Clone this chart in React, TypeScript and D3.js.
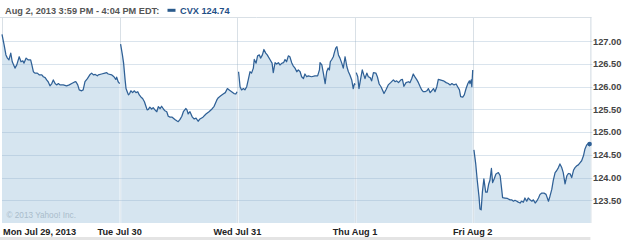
import React from "react";
import * as d3 from "d3";

// [minutes after 9:30 open, price]
const mon: [number, number][] = [
  [0, 127.15], [7, 126.92], [13, 126.7], [18, 126.63], [23, 126.59], [29, 126.74], [34, 126.55], [43, 126.41],
  [49, 126.48], [57, 126.66], [63, 126.55], [69, 126.57], [73, 126.52], [80, 126.63], [87, 126.59], [95, 126.59],
  [99, 126.48], [104, 126.33], [109, 126.3], [117, 126.3], [124, 126.26], [132, 126.26], [137, 126.22], [143, 126.2],
  [148, 126.15], [153, 126.11], [159, 126.02], [165, 126.07], [170, 126.15], [176, 126.07], [181, 126.04], [187, 126.07],
  [192, 126.04], [203, 126.04], [214, 126.02], [223, 126.04], [231, 126.07], [239, 126.1], [245, 126.11], [251, 126.04],
  [256, 125.93], [264, 125.91], [269, 125.93], [275, 126.11], [283, 126.18], [292, 126.27], [297, 126.3], [303, 126.26],
  [309, 126.27], [316, 126.24], [319, 126.26], [330, 126.28], [341, 126.3], [347, 126.31], [352, 126.28], [364, 126.26],
  [371, 126.22], [377, 126.16], [380, 126.21], [385, 126.11], [390, 126.07],
];
const tue: [number, number][] = [
  [3, 126.94], [9, 126.7], [13, 126.52], [18, 126.15], [21, 125.96], [25, 125.89], [29, 125.82], [33, 125.85],
  [37, 125.91], [43, 125.87], [48, 125.91], [54, 125.87], [60, 125.89], [65, 125.82], [71, 125.77], [76, 125.74],
  [82, 125.67], [87, 125.57], [91, 125.49], [95, 125.5], [100, 125.55], [106, 125.51], [111, 125.54], [117, 125.49],
  [123, 125.45], [128, 125.56], [134, 125.52], [139, 125.57], [145, 125.51], [150, 125.47], [156, 125.45], [161, 125.35],
  [167, 125.33], [174, 125.33], [183, 125.28], [189, 125.25], [194, 125.23], [200, 125.28], [206, 125.35], [211, 125.45],
  [219, 125.52], [223, 125.49], [227, 125.4], [233, 125.45], [241, 125.33], [247, 125.29], [253, 125.31], [260, 125.24],
  [266, 125.29], [276, 125.33], [286, 125.4], [296, 125.45], [306, 125.51], [313, 125.57], [322, 125.71], [327, 125.76],
  [335, 125.8], [343, 125.84], [350, 125.87], [357, 125.96], [363, 125.93], [371, 125.89], [379, 125.85], [385, 125.84],
  [389, 125.89],
];
const wed: [number, number][] = [
  [4, 126.33], [9, 126.0], [14, 125.93], [20, 125.96], [25, 125.93], [31, 126.0], [36, 126.15], [42, 126.33],
  [47, 126.3], [53, 126.41], [56, 126.6], [62, 126.52], [67, 126.68], [73, 126.7], [77, 126.63], [83, 126.7],
  [88, 126.82], [94, 126.74], [99, 126.7], [108, 126.6], [115, 126.52], [119, 126.31], [125, 126.53], [130, 126.5],
  [136, 126.53], [141, 126.48], [148, 126.52], [153, 126.53], [158, 126.6], [163, 126.55], [169, 126.68], [174, 126.66],
  [180, 126.53], [185, 126.46], [191, 126.41], [197, 126.33], [202, 126.37], [208, 126.33], [213, 126.22], [219, 126.18],
  [224, 126.28], [230, 126.22], [235, 126.24], [246, 126.22], [257, 126.24], [266, 126.24], [272, 126.37], [274, 126.53],
  [280, 126.48], [285, 126.3], [291, 126.07], [296, 126.33], [301, 126.41], [305, 126.37], [308, 126.55], [313, 126.6],
  [318, 126.66], [321, 126.74], [326, 126.85], [330, 126.88], [335, 126.7], [340, 126.63], [346, 126.52], [351, 126.41],
  [357, 126.66], [363, 126.44], [368, 126.33], [373, 126.26], [379, 126.15], [384, 125.96], [388, 126.07], [390, 126.04],
];
const thu: [number, number][] = [
  [4, 126.31], [9, 126.22], [13, 125.96], [18, 126.15], [24, 126.37], [29, 126.26], [33, 126.18], [39, 126.3],
  [44, 126.22], [50, 126.2], [55, 126.13], [61, 126.31], [69, 126.3], [74, 126.22], [80, 126.06], [86, 126.0],
  [92, 125.91], [96, 125.85], [103, 125.94], [110, 126.04], [118, 126.09], [127, 126.15], [133, 126.11], [138, 126.13],
  [144, 126.09], [152, 126.15], [157, 126.16], [162, 126.01], [169, 126.09], [177, 126.11], [182, 126.09], [188, 126.18],
  [193, 126.28], [199, 126.21], [205, 126.15], [210, 126.09], [216, 126.0], [221, 125.93], [226, 125.89], [232, 125.89],
  [238, 125.91], [243, 125.96], [249, 125.87], [254, 125.91], [260, 125.96], [265, 125.89], [271, 126.0], [276, 126.16],
  [282, 126.15], [293, 126.13], [302, 126.09], [309, 126.07], [315, 126.04], [321, 126.07], [328, 126.04], [335, 126.06],
  [340, 126.0], [346, 125.93], [350, 125.78], [357, 125.77], [362, 125.82], [368, 125.96], [374, 126.07], [379, 126.13],
  [381, 126.07], [385, 126.15], [387, 126.0], [390, 126.37],
];
const fri: [number, number][] = [
  [4, 124.61], [10, 124.3], [15, 123.94], [21, 123.57], [24, 123.31], [28, 123.29], [32, 123.68], [37, 123.97],
  [43, 123.68], [48, 123.68], [53, 123.86], [57, 123.94], [62, 124.2], [66, 123.89], [71, 123.97], [77, 124.08],
  [85, 124.11], [91, 124.04], [96, 123.74], [99, 123.56], [107, 123.55], [115, 123.54], [124, 123.51], [129, 123.51],
  [135, 123.48], [140, 123.5], [146, 123.48], [151, 123.46], [157, 123.44], [162, 123.48], [168, 123.46], [173, 123.55],
  [179, 123.48], [184, 123.55], [190, 123.51], [196, 123.48], [201, 123.51], [207, 123.44], [212, 123.48], [218, 123.55],
  [223, 123.63], [229, 123.66], [236, 123.66], [243, 123.63], [251, 123.48], [256, 123.59], [262, 123.74], [267, 123.94],
  [273, 124.11], [278, 124.15], [284, 124.22], [289, 124.3], [295, 124.22], [300, 124.11], [306, 123.86], [312, 124.04],
  [317, 124.09], [323, 124.08], [328, 124.0], [334, 124.16], [339, 124.22], [345, 124.26], [350, 124.28], [356, 124.33],
  [361, 124.37], [367, 124.48], [372, 124.63], [378, 124.72], [383, 124.75], [387, 124.7], [390, 124.74],
];

const days = [mon, tue, wed, thu, fri];
const dayLabels = ["Mon Jul 29, 2013", "Tue Jul 30", "Wed Jul 31", "Thu Aug 1", "Fri Aug 2"];
const yTicks = [123.5, 124.0, 124.5, 125.0, 125.5, 126.0, 126.5, 127.0];
const titleText = "Aug 2, 2013 3:59 PM - 4:04 PM EDT:";
const symbol = "CVX";
const lastPrice = 124.74;
const SESSION = 390;

const W = 625;
const H = 240;
const left = 2;
const right = 590.4;
const top = 17;
const bottom = 223;

const FONT = "'Liberation Sans', Arial, sans-serif";
const LINE = "#2f6096";
const FILL = "#d6e5f0";

export default function App() {
  const x = d3.scaleLinear().domain([0, days.length]).range([left, right]);
  const y = d3.scaleLinear().domain([123.0, 127.535]).range([bottom, top]);
  const tx = (d: number, m: number) => x(d + m / SESSION);

  const series = days.map((pts, d) => pts.map(([m, p]) => ({ x: tx(d, m), y: y(p) })));
  const line = d3.line<{ x: number; y: number }>().x((p) => p.x).y((p) => p.y);
  const area = d3
    .area<{ x: number; y: number }>()
    .x((p) => p.x)
    .y0(bottom)
    .y1((p) => p.y);

  const dayBounds = d3.range(1, days.length).map((d) => x(d));
  const lastDay = days.length - 1;
  const lastPt = fri[fri.length - 1];

  return (
    <svg
      width={W}
      height={H}
      style={{ position: "fixed", left: 0, top: 0, background: "#fff" }}
      fontFamily={FONT}
    >
      <defs>
        <clipPath id="fillclip">
          {series.map((s, i) => (
            <path key={i} d={area(s) || ""} />
          ))}
        </clipPath>
      </defs>
      {/* frame */}
      <line x1={0} x2={right + 1} y1={top + 0.5} y2={top + 0.5} stroke="#d9e0e6" />
      <line x1={left + 0.5} x2={left + 0.5} y1={top} y2={bottom} stroke="#d9e0e6" />
      <line x1={right + 0.5} x2={right + 0.5} y1={top} y2={bottom} stroke="#d0d9e1" />
      {/* vertical grid */}
      {dayBounds.map((bx, i) => (
        <line key={i} x1={Math.round(bx) + 0.5} x2={Math.round(bx) + 0.5} y1={top} y2={bottom} stroke="#d9e0e6" />
      ))}
      {/* fills */}
      {series.map((s, i) => (
        <path key={i} d={area(s) || ""} fill={FILL} />
      ))}
      {/* white day separators inside fill */}
      <g clipPath="url(#fillclip)">
        {dayBounds.map((bx, i) => (
          <line key={i} x1={Math.round(bx) + 0.5} x2={Math.round(bx) + 0.5} y1={top} y2={bottom} stroke="#f4f8fb" strokeWidth={1.5} />
        ))}
      </g>
      {/* horizontal grid */}
      {yTicks.map((t) => (
        <line
          key={t}
          x1={left}
          x2={right + 2}
          y1={Math.round(y(t)) + 0.5}
          y2={Math.round(y(t)) + 0.5}
          stroke="rgba(140,170,198,0.32)"
        />
      ))}
      {/* watermark */}
      <text x={6.5} y={217.5} fontSize={8.2} fill="#a9bccb">
        © 2013 Yahoo! Inc.
      </text>
      {/* lines */}
      {series.map((s, i) => (
        <path key={i} d={line(s) || ""} fill="none" stroke={LINE} strokeWidth={1.25} strokeLinejoin="round" />
      ))}
      <circle cx={tx(lastDay, lastPt[0]) - 0.8} cy={y(lastPt[1])} r={2.3} fill={LINE} />
      {/* y labels */}
      {yTicks.map((t) => (
        <text key={t} x={593} y={y(t)} dy="0.35em" fontSize={9.3} fontWeight="bold" fill="#444">
          {t.toFixed(2)}
        </text>
      ))}
      {/* x labels */}
      {dayLabels.map((lbl, i) => (
        <text
          key={lbl}
          x={i === 0 ? 3 : x(i)}
          y={234.5}
          fontSize={9.2}
          fontWeight="bold"
          fill="#222"
          textAnchor={i === 0 ? "start" : "middle"}
        >
          {lbl}
        </text>
      ))}
      <rect x={0} y={237} width={right} height={3} fill="#e4e4e4" />
      {/* header */}
      <text x={5} y={13.5} fontSize={9.2} fontWeight="bold" fill="#555">
        {titleText}
      </text>
      <rect x={167.5} y={8.8} width={8} height={3} fill="#2a5a8c" />
      <text x={180} y={13.5} fontSize={9.2} fontWeight="bold" fill="#1f4f86">
        {symbol} {lastPrice.toFixed(2)}
      </text>
    </svg>
  );
}
